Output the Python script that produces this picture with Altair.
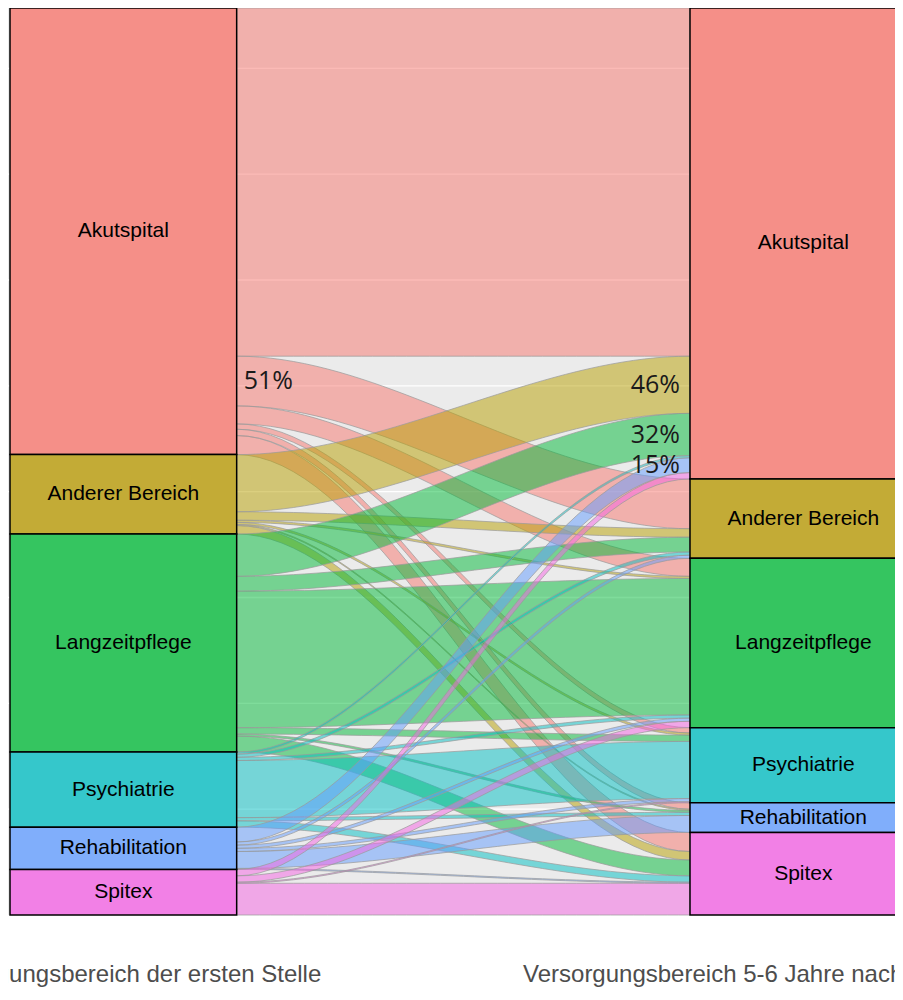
import altair as alt
import pandas as pd

# ---------------- data ----------------
categories = ["Akutspital", "Anderer Bereich", "Langzeitpflege",
              "Psychiatrie", "Rehabilitation", "Spitex"]

# number of persons: row = area of first position, columns = area 5-6 years later
# (column order = categories)
from_akutspital = [329, 47, 17, 5, 6, 18]
from_anderer_bereich = [54, 8, 2, 2, 1, 8]
from_langzeitpflege = [40, 14, 129, 6, 2, 15]
from_psychiatrie = [2, 3, 3, 54, 3, 6]
from_rehabilitation = [14, 3, 3, 3, 16, 1]
from_spitex = [6, 0, 6, 1, 0, 30]

axis_names = ["Versorgungsbereich der ersten Stelle",
              "Versorgungsbereich 5-6 Jahre nach der ersten Stelle"]

pct_text = ["51%", "46%", "32%", "15%"]
pct_origin = ["Akutspital", "Anderer Bereich", "Langzeitpflege", "Rehabilitation"]
pct_dest = ["Anderer Bereich", "Akutspital", "Akutspital", "Akutspital"]
pct_side = ["left", "right", "right", "right"]

grid_values = [100, 200, 300, 400, 500, 600, 700, 800]

# ---------------- styles ----------------
flow_colors = ["#F8766D", "#B79F00", "#00BA38", "#00BFC4", "#619CFF", "#F564E3"]
stratum_colors = ["#F58F88", "#C3AB36", "#35C560", "#35C7CB", "#80AEFB", "#F280E6"]
axis_pos = [1, 2]
stratum_width = 1 / 3
PX_PER_UNIT = 680
PLOT_W, PLOT_H = 887, 907

# ---------------- tables ----------------
rows = [from_akutspital, from_anderer_bereich, from_langzeitpflege,
        from_psychiatrie, from_rehabilitation, from_spitex]
recs = []
for i, (o, r) in enumerate(zip(categories, rows)):
    for j, (d, v) in enumerate(zip(categories, r)):
        recs.append({"origin": o, "dest": d, "oidx": i, "didx": j,
                     "value": v, "fid": f"{o}->{d}", "pct": "", "side": ""})
flows_df = pd.DataFrame(recs)
for t, o, d, s in zip(pct_text, pct_origin, pct_dest, pct_side):
    m = (flows_df.origin == o) & (flows_df.dest == d)
    flows_df.loc[m, "pct"] = t
    flows_df.loc[m, "side"] = s

total = int(flows_df.value.sum())

x_left_edge = axis_pos[0] - stratum_width / 2
xmin = x_left_edge - 2 / PX_PER_UNIT
xmax = xmin + PLOT_W / PX_PER_UNIT
xscale = alt.Scale(domain=[xmin, xmax], nice=False, zero=False)
yscale = alt.Scale(domain=[0, total], nice=False, zero=False)

label_expr = f"datum.value == {axis_pos[0]} ? '{axis_names[0]}' : '{axis_names[1]}'"
xaxis = alt.Axis(values=axis_pos, labelExpr=label_expr, title=None, grid=False,
                 domain=False, ticks=False, tickSize=0, labelPadding=47,
                 labelFontSize=24, labelFont="Liberation Sans", labelColor="#4D4D4D",
                 labelOverlap=False, labelFlush=False, labelBound=False,
                 labelLimit=2000)

flow_start = axis_pos[0] + stratum_width / 2
flow_end = axis_pos[1] - stratum_width / 2

# ---------------- layers ----------------
grid = alt.Chart(pd.DataFrame({"g": grid_values})).mark_rule(
    color="white", strokeWidth=1.3
).encode(y=alt.Y("g:Q", scale=yscale, axis=None))

flows_base = (
    alt.Chart(flows_df)
    .transform_filter("datum.value > 0")
    .transform_joinaggregate(N="sum(value)")
    .transform_window(lcum="sum(value)",
                      sort=[alt.SortField("oidx"), alt.SortField("didx")],
                      frame=[None, 0])
    .transform_window(rcum="sum(value)",
                      sort=[alt.SortField("didx"), alt.SortField("oidx")],
                      frame=[None, 0])
    .transform_calculate(
        l_hi="datum.N - datum.lcum + datum.value",
        l_lo="datum.N - datum.lcum",
        r_hi="datum.N - datum.rcum + datum.value",
        r_lo="datum.N - datum.rcum",
    )
)

flows = (
    flows_base
    .transform_calculate(step="sequence(0, 41)")
    .transform_flatten(["step"])
    .transform_calculate(
        s="datum.step / 40",
        e="datum.s * datum.s * (3 - 2 * datum.s)",
        xx=f"{flow_start} + datum.s * {flow_end - flow_start}",
        y_hi="datum.l_hi + (datum.r_hi - datum.l_hi) * datum.e",
        y_lo="datum.l_lo + (datum.r_lo - datum.l_lo) * datum.e",
    )
    .mark_area(opacity=1, fillOpacity=0.5, stroke="#9A9A9A",
               strokeWidth=0.8, strokeOpacity=0.9, interpolate="linear")
    .encode(
        x=alt.X("xx:Q", scale=xscale, axis=xaxis),
        y=alt.Y("y_hi:Q", scale=yscale, axis=None, stack=None),
        y2="y_lo:Q",
        color=alt.Color("origin:N", scale=alt.Scale(domain=categories, range=flow_colors),
                        legend=None),
        detail="fid:N",
    )
)


def strata(cat_field, idx_field, pos, right_extent):
    base = (
        alt.Chart(flows_df)
        .transform_aggregate(tot="sum(value)", groupby=[cat_field, idx_field])
        .transform_joinaggregate(N="sum(tot)")
        .transform_window(cum="sum(tot)", sort=[alt.SortField(idx_field)], frame=[None, 0])
        .transform_calculate(
            cat=f"datum['{cat_field}']",
            hi="datum.N - datum.cum + datum.tot",
            lo="datum.N - datum.cum",
            mid="datum.N - datum.cum + datum.tot / 2",
            xa=f"{pos - stratum_width / 2}",
            xb=f"{pos + right_extent}",
            xc=f"{pos}",
        )
    )
    rect = base.mark_rect(stroke="black", strokeWidth=1.5).encode(
        x=alt.X("xa:Q", scale=xscale, axis=xaxis),
        x2="xb:Q",
        y=alt.Y("lo:Q", scale=yscale, axis=None),
        y2="hi:Q",
        fill=alt.Fill("cat:N", scale=alt.Scale(domain=categories, range=stratum_colors),
                      legend=None),
    )
    text = base.mark_text(font="Liberation Sans", fontSize=21, color="black",
                          align="center", baseline="middle").encode(
        x=alt.X("xc:Q", scale=xscale, axis=xaxis),
        y=alt.Y("mid:Q", scale=yscale, axis=None),
        text="cat:N",
    )
    return rect + text


left_strata = strata("origin", "oidx", axis_pos[0], stratum_width / 2)
# right strata run past the cropped right edge of the picture
right_strata = strata("dest", "didx", axis_pos[1], stratum_width)

pct_left = (
    flows_base.transform_filter("datum.side == 'left'")
    .transform_calculate(ym="(datum.l_hi + datum.l_lo) / 2", xx=f"{flow_start}")
    .mark_text(font="Open Sans", fontSize=25, color="#1A1A1A", align="left",
               baseline="middle", dx=7)
    .encode(x=alt.X("xx:Q", scale=xscale, axis=xaxis),
            y=alt.Y("ym:Q", scale=yscale, axis=None),
            text="pct:N")
)
pct_right = (
    flows_base.transform_filter("datum.side == 'right'")
    .transform_calculate(ym="(datum.r_hi + datum.r_lo) / 2", xx=f"{flow_end}")
    .mark_text(font="Open Sans", fontSize=25, color="#1A1A1A", align="right",
               baseline="middle", dx=-10)
    .encode(x=alt.X("xx:Q", scale=xscale, axis=xaxis),
            y=alt.Y("ym:Q", scale=yscale, axis=None),
            text="pct:N")
)

chart = (
    alt.layer(grid, flows, left_strata, right_strata, pct_left, pct_right)
    .properties(
        width=PLOT_W, height=PLOT_H,
        autosize=alt.AutoSizeParams(type="none"),
        padding={"left": 0, "top": 0, "right": 0, "bottom": 72},
        background="white",
    )
    .configure_view(fill="#EBEBEB", strokeWidth=0)
)

chart.save("out.html", embed_options={"renderer": "svg", "actions": False})
